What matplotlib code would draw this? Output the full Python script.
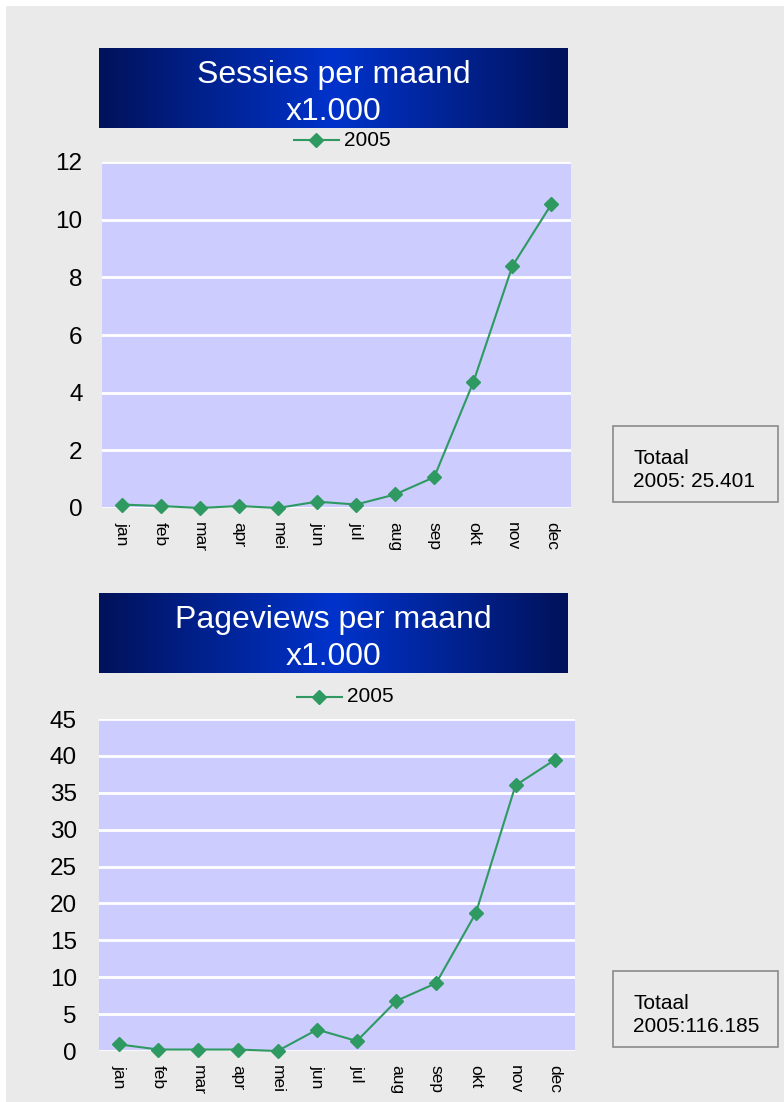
import numpy as np
import matplotlib
matplotlib.use("Agg")
import matplotlib.pyplot as plt
from matplotlib.patches import Rectangle
from matplotlib.colors import LinearSegmentedColormap

plt.rcParams['font.family'] = ['Liberation Sans', 'DejaVu Sans']

# data (x1.000)
months = ['jan', 'feb', 'mar', 'apr', 'mei', 'jun', 'jul', 'aug', 'sep', 'okt', 'nov', 'dec']
sessies_2005 = [0.12, 0.07, 0.0, 0.07, 0.0, 0.22, 0.12, 0.47, 1.07, 4.36, 8.39, 10.54]
pageviews_2005 = [0.9, 0.2, 0.2, 0.2, 0.0, 2.9, 1.35, 6.8, 9.2, 18.7, 36.0, 39.5]
sessies_ticks = [0, 2, 4, 6, 8, 10, 12]
pageviews_ticks = [0, 5, 10, 15, 20, 25, 30, 35, 40, 45]
totaal_sessies = 'Totaal\n2005: 25.401'
totaal_pageviews = 'Totaal\n2005:116.185'

W, H = 784, 1102
BG = '#eaeaea'
PLOT_BG = '#ccccff'
GREEN = '#2e9a62'

fig = plt.figure(figsize=(W / 100, H / 100), dpi=100)
fig.patch.set_facecolor('white')
fig.patches.append(Rectangle((6 / W, 0), 1, 1 - 6 / H, transform=fig.transFigure,
                             facecolor=BG, edgecolor='none', zorder=-10))


def px(x0, y0, x1, y1):
    # pixel box (top-left origin) -> figure fraction rect
    return [x0 / W, 1 - y1 / H, (x1 - x0) / W, (y1 - y0) / H]


cmap = LinearSegmentedColormap.from_list('titlegrad', ['#00125a', '#0033cc', '#00125a'])


def title_box(box, text):
    ax = fig.add_axes(px(*box))
    grad = np.linspace(0, 1, 256).reshape(1, -1)
    ax.imshow(grad, aspect='auto', cmap=cmap, extent=[0, 1, 0, 1])
    ax.set_axis_off()
    ax.text(0.5, 0.43, text, color='white', fontsize=23, ha='center', va='center',
            transform=ax.transAxes, linespacing=1.3)


def line_chart(box, values, ticks, label_pad):
    ax = fig.add_axes(px(*box))
    x = np.arange(len(months))
    ax.set_facecolor(PLOT_BG)
    ax.plot(x, values, color=GREEN, lw=1.5, marker='D', ms=7, mec=GREEN, mfc=GREEN,
            label='2005', clip_on=False, zorder=3)
    ax.set_xlim(-0.5, len(months) - 0.5)
    ax.set_ylim(ticks[0], ticks[-1])
    ax.set_yticks(ticks)
    ax.set_yticklabels([str(t) for t in ticks], fontsize=17.5)
    ax.set_xticks(x)
    ax.set_xticklabels(months, rotation=270, fontsize=12.5, va='top')
    ax.tick_params(length=0)
    ax.tick_params(axis='y', pad=label_pad)
    ax.tick_params(axis='x', pad=10)
    for s in ax.spines.values():
        s.set_visible(False)
    for t in ticks:
        ax.axhline(t, color='white', lw=2, zorder=1)
    return ax


def legend_item(xl, y):
    ax = fig.add_axes(px(xl, y - 8, xl + 110, y + 8))
    ax.set_axis_off()
    ax.set_xlim(0, 110)
    ax.set_ylim(-1, 1)
    ax.plot([0, 46], [0, 0], color=GREEN, lw=1.5)
    ax.plot([23], [0], marker='D', ms=7, color=GREEN)
    ax.text(51, 0, '2005', fontsize=15, va='center', ha='left')


def totaal_box(box, text):
    x0, y0, x1, y1 = box
    fig.patches.append(Rectangle((x0 / W, 1 - y1 / H), (x1 - x0) / W, (y1 - y0) / H,
                                 transform=fig.transFigure, facecolor=BG,
                                 edgecolor='#8a8a8a', lw=1.2))
    fig.text((x0 + 20) / W, 1 - ((y0 + y1) / 2 + 6) / H, text, fontsize=15,
             ha='left', va='center', linespacing=1.3)


# sessies
title_box((99, 48, 568, 128), 'Sessies per maand\nx1.000')
legend_item(293, 140)
line_chart((102, 162, 571, 508), sessies_2005, sessies_ticks, 14)
totaal_box((613, 426, 778, 502), totaal_sessies)

# pageviews
title_box((99, 593, 568, 673), 'Pageviews per maand\nx1.000')
legend_item(296, 697)
line_chart((99, 719, 575, 1051), pageviews_2005, pageviews_ticks, 16)
totaal_box((613, 971, 778, 1047), totaal_pageviews)

fig.savefig('out.png', dpi=100, facecolor=fig.get_facecolor())
